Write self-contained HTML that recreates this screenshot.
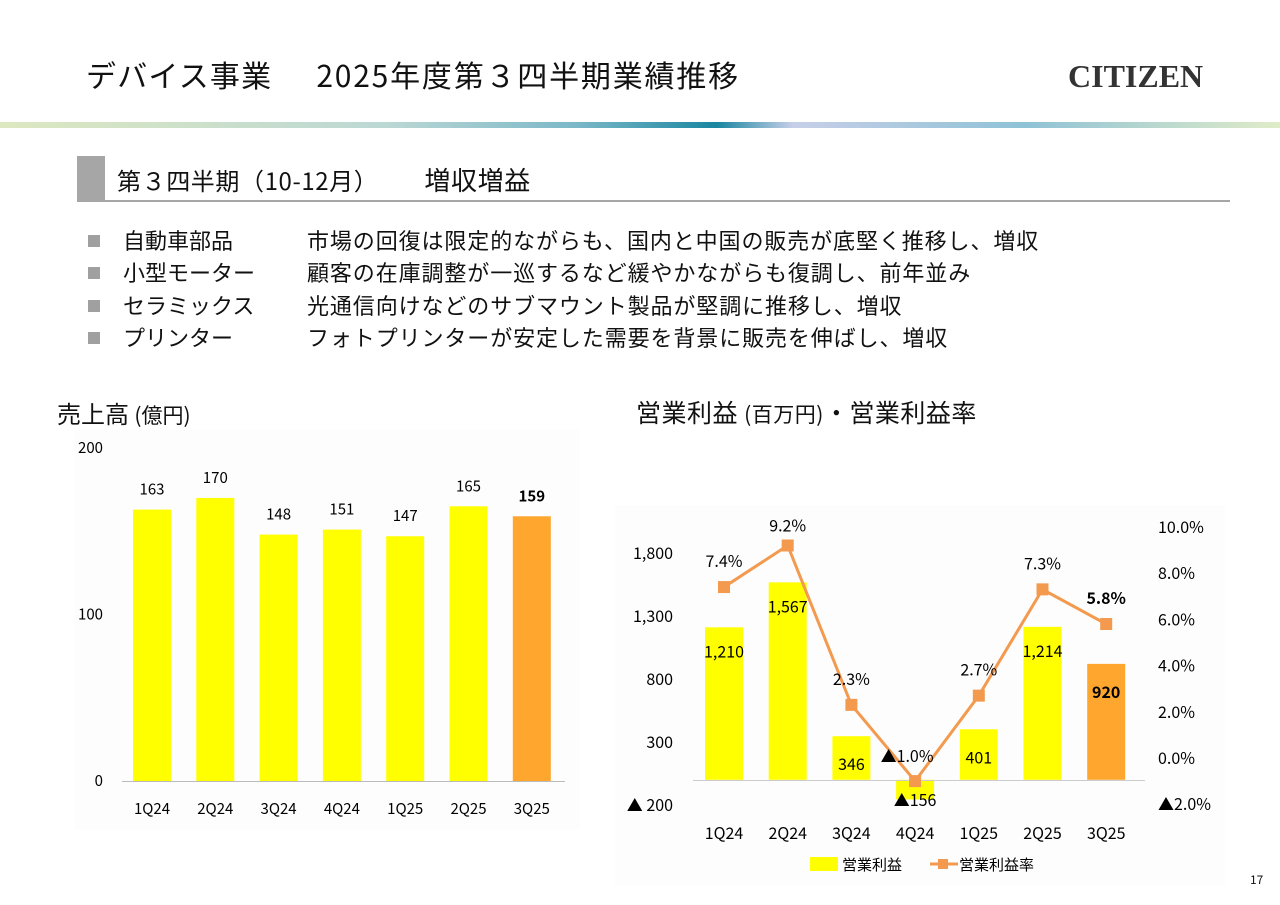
<!DOCTYPE html>
<html><head><meta charset="utf-8"><style>
body{margin:0;width:1280px;height:905px;background:#fff;font-family:"Noto Sans CJK JP","Liberation Sans",sans-serif;color:#111;position:relative;overflow:hidden}
.a{position:absolute;white-space:nowrap}
.sq{position:absolute;left:88px;width:12px;height:12px;background:#a0a0a0}
.bl{position:absolute;left:123px;font-size:22px;line-height:30px;white-space:nowrap}
</style></head><body>
<div class="a" style="left:86px;top:52px;font-size:30px;line-height:44px;letter-spacing:1.2px">デバイス事業<span style="display:inline-block;width:44px"></span><span style="letter-spacing:1.8px">2025年度第３四半期業績推移</span></div>
<div class="a" style="left:1068px;top:58px;font-size:32px;font-family:'Liberation Serif',serif;font-weight:bold;color:#333">CITIZEN</div>
<svg class="a" style="left:0;top:122px" width="1280" height="8">
<defs><linearGradient id="g" x1="0" x2="1"><stop offset="0" stop-color="#dde8c0"/><stop offset="0.3" stop-color="#bcd8d4"/><stop offset="0.45" stop-color="#7bb8c8"/><stop offset="0.56" stop-color="#1a86a0"/><stop offset="0.62" stop-color="#c7cfe8"/><stop offset="0.8" stop-color="#8fc2d6"/><stop offset="1" stop-color="#e0ecc8"/></linearGradient></defs>
<rect width="1280" height="6" fill="url(#g)"/></svg>
<div class="a" style="left:77px;top:156px;width:28px;height:45px;background:#a6a6a6"></div>
<div class="a" style="left:77px;top:200px;width:1153px;height:2px;background:#a6a6a6"></div>
<div class="a" style="left:117px;top:162px;font-size:24px;line-height:36px;letter-spacing:0.6px">第３四半期（10-12月）<span style="display:inline-block;width:46px"></span><span style="font-size:26px">増収増益</span></div>
<div>
<div class="sq" style="top:235px"></div><div class="bl" style="top:225px">自動車部品</div>
<div class="sq" style="top:267px"></div><div class="bl" style="top:257px">小型モーター</div>
<div class="sq" style="top:300px"></div><div class="bl" style="top:290px">セラミックス</div>
<div class="sq" style="top:332px"></div><div class="bl" style="top:322px">プリンター</div>
<div class="bl" style="left:307px;top:225px;letter-spacing:0.9px">市場の回復は限定的ながらも、国内と中国の販売が底堅く推移し、増収</div>
<div class="bl" style="left:307px;top:257px;letter-spacing:0.9px">顧客の在庫調整が一巡するなど緩やかながらも復調し、前年並み</div>
<div class="bl" style="left:307px;top:290px;letter-spacing:0.9px">光通信向けなどのサブマウント製品が堅調に推移し、増収</div>
<div class="bl" style="left:307px;top:322px;letter-spacing:0.9px">フォトプリンターが安定した需要を背景に販売を伸ばし、増収</div>
</div>
<div class="a" style="left:57px;top:395px;font-size:24px">売上高 <span style="font-size:21px">(億円)</span></div>
<div class="a" style="left:636px;top:394px;font-size:25px;letter-spacing:0.5px">営業利益 <span style="font-size:21px">(百万円)</span>・営業利益率</div>
<div class="a" style="left:1250px;top:871px;font-size:12px">17</div>
<svg id="c1" class="a" style="left:0;top:0" width="1280" height="905"></svg>
<svg id="c2" class="a" style="left:0;top:0" width="1280" height="905"></svg>
<script>
const categories=["1Q24","2Q24","3Q24","4Q24","1Q25","2Q25","3Q25"];
const salesValues=[163,170,148,151,147,165,159];
const salesTicks=[0,100,200];
const profitValues=[1210,1567,346,-156,401,1214,920];
const profitLabels=["1,210","1,567","346","▲156","401","1,214","920"];
const marginValues=[7.4,9.2,2.3,-1.0,2.7,7.3,5.8];
const marginLabels=["7.4%","9.2%","2.3%","▲1.0%","2.7%","7.3%","5.8%"];
const leftTicks=[-200,300,800,1300,1800];
const leftTickLabels=["▲ 200","300","800","1,300","1,800"];
const rightTicks=[-2,0,2,4,6,8,10];
const rightTickLabels=["▲2.0%","0.0%","2.0%","4.0%","6.0%","8.0%","10.0%"];
const NS="http://www.w3.org/2000/svg";
function mk(p,t,a,txt){const e=document.createElementNS(NS,t);for(const k in a)e.setAttribute(k,a[k]);if(txt!==undefined)e.textContent=txt;p.appendChild(e);return e;}
const FF='"Noto Sans CJK JP","Liberation Sans",sans-serif';
// chart 1
const c1=document.getElementById('c1');
const x1=i=>152+i*63.3, y1=v=>781-v*1.665;
mk(c1,'rect',{x:75,y:430,width:505,height:400,fill:'#fdfdfd'});
salesTicks.forEach(t=>{const e=mk(c1,'text',{x:103,y:y1(t)+5,'text-anchor':'end','font-size':15,'font-family':FF},t);

});
salesValues.forEach((v,i)=>{const last=i===6;
const r=mk(c1,'rect',{x:x1(i)-19,y:y1(v),width:38,height:y1(0)-y1(v),fill:last?'#ffa62f':'#ffff00'});


const l=mk(c1,'text',{x:x1(i),y:y1(v)-15,'text-anchor':'middle','font-size':15,'font-weight':last?'bold':'normal','font-family':FF},v);


const c=mk(c1,'text',{x:x1(i),y:814,'text-anchor':'middle','font-size':15,'font-family':FF},categories[i]);

});
mk(c1,'line',{x1:122,x2:565,y1:781.5,y2:781.5,stroke:'#bbb','stroke-width':1});
// chart 2
const c2=document.getElementById('c2');
const x2=i=>724+i*63.7, yl=v=>779.8-v*0.126, yr=v=>758-v*23.1;
mk(c2,'rect',{x:615,y:505,width:610,height:380,fill:'#fdfdfd'});
leftTicks.forEach((t,i)=>{const e=mk(c2,'text',{x:673,y:yl(t)+6,'text-anchor':'end','font-size':16,'font-family':FF},leftTickLabels[i]);

});
rightTicks.forEach((t,i)=>{const e=mk(c2,'text',{x:1158,y:yr(t)+6,'font-size':16,'font-family':FF},rightTickLabels[i]);

});
profitValues.forEach((v,i)=>{const last=i===6;const y0=yl(0),yv=yl(v);
const r=mk(c2,'rect',{x:x2(i)-19,y:Math.min(y0,yv),width:38,height:Math.abs(y0-yv),fill:last?'#ffa62f':'#ffff00'});


const c=mk(c2,'text',{x:x2(i),y:839,'text-anchor':'middle','font-size':16,'font-family':FF},categories[i]);

});
mk(c2,'line',{x1:693,x2:1145,y1:780.5,y2:780.5,stroke:'#ccc','stroke-width':1});
mk(c2,'polyline',{points:marginValues.map((v,i)=>x2(i)+','+yr(v)).join(' '),fill:'none',stroke:'#f39a4f','stroke-width':3});
marginValues.forEach((v,i)=>{const m=mk(c2,'rect',{x:x2(i)-6,y:yr(v)-6,width:12,height:12,fill:'#f39a4f'});

});
profitValues.forEach((v,i)=>{const last=i===6;
let ly = v<0 ? yl(0)+26 : (v>1000? yl(v)+30 : yl(v)+34);
if(v>1500) ly=yl(v)+30;
const l=mk(c2,'text',{x:x2(i),y:ly,'text-anchor':'middle','font-size':16,'font-weight':last?'bold':'normal','font-family':FF},profitLabels[i]);

});
marginValues.forEach((v,i)=>{const last=i===6;
let lx=x2(i), ly=yr(v)-20;
if(i===3){lx=x2(i)-8;ly=yl(0)-18;}
if(i===1) ly=yr(v)-14;
const l=mk(c2,'text',{x:lx,y:ly,'text-anchor':'middle','font-size':16,'font-weight':last?'bold':'normal','font-family':FF},marginLabels[i]);

});
const lg=mk(c2,'g',{});


mk(lg,'rect',{x:810,y:857,width:28,height:14,fill:'#ffff00'});
mk(lg,'text',{x:842,y:870,'font-size':15,'font-family':FF},'営業利益');
mk(lg,'line',{x1:930,x2:958,y1:864,y2:864,stroke:'#f39a4f','stroke-width':3});
mk(lg,'rect',{x:938,y:859,width:10,height:10,fill:'#f39a4f'});
mk(lg,'text',{x:959,y:870,'font-size':15,'font-family':FF},'営業利益率');
</script>
</body></html>
